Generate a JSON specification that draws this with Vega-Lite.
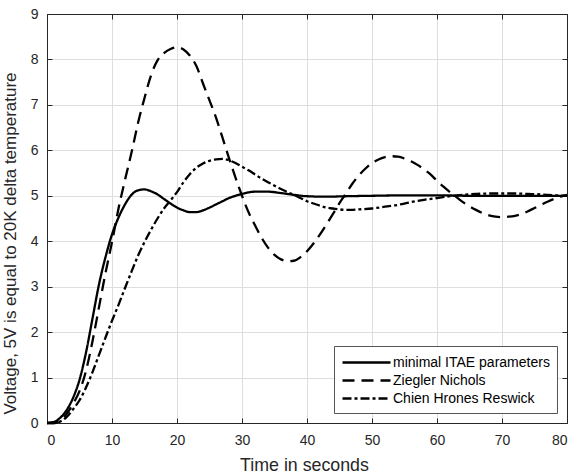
{
  "$schema": "https://vega.github.io/schema/vega-lite/v6.json",
  "width": 520,
  "height": 409,
  "autosize": {"type": "none"},
  "padding": {"left": 47, "top": 14, "right": 9, "bottom": 50},
  "background": "white",
  "config": {
    "font": "Liberation Sans",
    "view": {"stroke": "#262626", "strokeWidth": 1},
    "axis": {
      "domainColor": "#262626",
      "tickColor": "#262626",
      "labelColor": "#262626",
      "titleColor": "#262626",
      "labelFontSize": 14,
      "titleFontWeight": "normal",
      "gridColor": "#dedede",
      "gridWidth": 1,
      "tickSize": -5
    }
  },
  "datasets": {
    "curves": [
      {"series": "minimal ITAE parameters", "t": 0, "v": 0},
      {"series": "minimal ITAE parameters", "t": 1, "v": 0.02},
      {"series": "minimal ITAE parameters", "t": 2, "v": 0.11},
      {"series": "minimal ITAE parameters", "t": 3, "v": 0.28},
      {"series": "minimal ITAE parameters", "t": 4, "v": 0.55},
      {"series": "minimal ITAE parameters", "t": 5, "v": 0.95},
      {"series": "minimal ITAE parameters", "t": 6, "v": 1.55},
      {"series": "minimal ITAE parameters", "t": 7, "v": 2.3},
      {"series": "minimal ITAE parameters", "t": 8, "v": 3.05},
      {"series": "minimal ITAE parameters", "t": 9, "v": 3.65},
      {"series": "minimal ITAE parameters", "t": 10, "v": 4.15},
      {"series": "minimal ITAE parameters", "t": 11, "v": 4.52},
      {"series": "minimal ITAE parameters", "t": 12, "v": 4.81},
      {"series": "minimal ITAE parameters", "t": 13, "v": 5.02},
      {"series": "minimal ITAE parameters", "t": 14, "v": 5.12},
      {"series": "minimal ITAE parameters", "t": 15, "v": 5.14},
      {"series": "minimal ITAE parameters", "t": 16, "v": 5.1},
      {"series": "minimal ITAE parameters", "t": 17, "v": 5.03},
      {"series": "minimal ITAE parameters", "t": 18, "v": 4.93},
      {"series": "minimal ITAE parameters", "t": 19, "v": 4.83},
      {"series": "minimal ITAE parameters", "t": 20, "v": 4.74},
      {"series": "minimal ITAE parameters", "t": 21, "v": 4.68},
      {"series": "minimal ITAE parameters", "t": 22, "v": 4.64},
      {"series": "minimal ITAE parameters", "t": 23, "v": 4.64},
      {"series": "minimal ITAE parameters", "t": 24, "v": 4.68},
      {"series": "minimal ITAE parameters", "t": 25, "v": 4.74},
      {"series": "minimal ITAE parameters", "t": 26, "v": 4.81},
      {"series": "minimal ITAE parameters", "t": 27, "v": 4.88},
      {"series": "minimal ITAE parameters", "t": 28, "v": 4.95},
      {"series": "minimal ITAE parameters", "t": 29, "v": 5.0},
      {"series": "minimal ITAE parameters", "t": 30, "v": 5.04},
      {"series": "minimal ITAE parameters", "t": 32, "v": 5.09},
      {"series": "minimal ITAE parameters", "t": 34, "v": 5.09},
      {"series": "minimal ITAE parameters", "t": 36, "v": 5.06},
      {"series": "minimal ITAE parameters", "t": 38, "v": 5.02},
      {"series": "minimal ITAE parameters", "t": 40, "v": 4.99},
      {"series": "minimal ITAE parameters", "t": 43, "v": 4.98},
      {"series": "minimal ITAE parameters", "t": 46, "v": 4.99},
      {"series": "minimal ITAE parameters", "t": 50, "v": 5.0},
      {"series": "minimal ITAE parameters", "t": 55, "v": 5.01},
      {"series": "minimal ITAE parameters", "t": 60, "v": 5.01},
      {"series": "minimal ITAE parameters", "t": 65, "v": 5.0},
      {"series": "minimal ITAE parameters", "t": 70, "v": 5.0},
      {"series": "minimal ITAE parameters", "t": 75, "v": 5.0},
      {"series": "minimal ITAE parameters", "t": 80, "v": 5.0},

      {"series": "Ziegler Nichols", "t": 0, "v": 0},
      {"series": "Ziegler Nichols", "t": 1, "v": 0.0},
      {"series": "Ziegler Nichols", "t": 2, "v": 0.05},
      {"series": "Ziegler Nichols", "t": 3, "v": 0.2},
      {"series": "Ziegler Nichols", "t": 4, "v": 0.42},
      {"series": "Ziegler Nichols", "t": 5, "v": 0.7},
      {"series": "Ziegler Nichols", "t": 6, "v": 1.15},
      {"series": "Ziegler Nichols", "t": 7, "v": 1.8},
      {"series": "Ziegler Nichols", "t": 8, "v": 2.55},
      {"series": "Ziegler Nichols", "t": 9, "v": 3.3},
      {"series": "Ziegler Nichols", "t": 10, "v": 3.98},
      {"series": "Ziegler Nichols", "t": 11, "v": 4.72},
      {"series": "Ziegler Nichols", "t": 12, "v": 5.35},
      {"series": "Ziegler Nichols", "t": 13, "v": 5.95},
      {"series": "Ziegler Nichols", "t": 14, "v": 6.6},
      {"series": "Ziegler Nichols", "t": 15, "v": 7.15},
      {"series": "Ziegler Nichols", "t": 16, "v": 7.65},
      {"series": "Ziegler Nichols", "t": 17, "v": 7.98},
      {"series": "Ziegler Nichols", "t": 18, "v": 8.14},
      {"series": "Ziegler Nichols", "t": 19, "v": 8.23},
      {"series": "Ziegler Nichols", "t": 20, "v": 8.27},
      {"series": "Ziegler Nichols", "t": 21, "v": 8.22},
      {"series": "Ziegler Nichols", "t": 22, "v": 8.08},
      {"series": "Ziegler Nichols", "t": 23, "v": 7.85},
      {"series": "Ziegler Nichols", "t": 24, "v": 7.47},
      {"series": "Ziegler Nichols", "t": 25, "v": 7.1},
      {"series": "Ziegler Nichols", "t": 26, "v": 6.72},
      {"series": "Ziegler Nichols", "t": 27, "v": 6.28},
      {"series": "Ziegler Nichols", "t": 28, "v": 5.83},
      {"series": "Ziegler Nichols", "t": 29, "v": 5.4},
      {"series": "Ziegler Nichols", "t": 30, "v": 5.0},
      {"series": "Ziegler Nichols", "t": 31, "v": 4.64},
      {"series": "Ziegler Nichols", "t": 32, "v": 4.35},
      {"series": "Ziegler Nichols", "t": 33, "v": 4.08},
      {"series": "Ziegler Nichols", "t": 34, "v": 3.86},
      {"series": "Ziegler Nichols", "t": 35, "v": 3.7},
      {"series": "Ziegler Nichols", "t": 36, "v": 3.6},
      {"series": "Ziegler Nichols", "t": 37, "v": 3.56},
      {"series": "Ziegler Nichols", "t": 38, "v": 3.57},
      {"series": "Ziegler Nichols", "t": 39, "v": 3.65},
      {"series": "Ziegler Nichols", "t": 40, "v": 3.78},
      {"series": "Ziegler Nichols", "t": 41, "v": 3.95},
      {"series": "Ziegler Nichols", "t": 42, "v": 4.15},
      {"series": "Ziegler Nichols", "t": 43, "v": 4.37},
      {"series": "Ziegler Nichols", "t": 44, "v": 4.6},
      {"series": "Ziegler Nichols", "t": 45, "v": 4.84},
      {"series": "Ziegler Nichols", "t": 46, "v": 5.05},
      {"series": "Ziegler Nichols", "t": 47, "v": 5.27},
      {"series": "Ziegler Nichols", "t": 48, "v": 5.45},
      {"series": "Ziegler Nichols", "t": 49, "v": 5.6},
      {"series": "Ziegler Nichols", "t": 50, "v": 5.72},
      {"series": "Ziegler Nichols", "t": 51, "v": 5.8},
      {"series": "Ziegler Nichols", "t": 52, "v": 5.85},
      {"series": "Ziegler Nichols", "t": 53, "v": 5.87},
      {"series": "Ziegler Nichols", "t": 54, "v": 5.86},
      {"series": "Ziegler Nichols", "t": 55, "v": 5.82},
      {"series": "Ziegler Nichols", "t": 56, "v": 5.76},
      {"series": "Ziegler Nichols", "t": 57, "v": 5.68},
      {"series": "Ziegler Nichols", "t": 58, "v": 5.58},
      {"series": "Ziegler Nichols", "t": 59, "v": 5.47},
      {"series": "Ziegler Nichols", "t": 60, "v": 5.33},
      {"series": "Ziegler Nichols", "t": 61, "v": 5.2},
      {"series": "Ziegler Nichols", "t": 62, "v": 5.08},
      {"series": "Ziegler Nichols", "t": 63, "v": 4.97},
      {"series": "Ziegler Nichols", "t": 64, "v": 4.86},
      {"series": "Ziegler Nichols", "t": 65, "v": 4.77},
      {"series": "Ziegler Nichols", "t": 66, "v": 4.69},
      {"series": "Ziegler Nichols", "t": 67, "v": 4.62},
      {"series": "Ziegler Nichols", "t": 68, "v": 4.57},
      {"series": "Ziegler Nichols", "t": 69, "v": 4.54},
      {"series": "Ziegler Nichols", "t": 70, "v": 4.53},
      {"series": "Ziegler Nichols", "t": 71, "v": 4.54},
      {"series": "Ziegler Nichols", "t": 72, "v": 4.56},
      {"series": "Ziegler Nichols", "t": 73, "v": 4.6},
      {"series": "Ziegler Nichols", "t": 74, "v": 4.66},
      {"series": "Ziegler Nichols", "t": 75, "v": 4.73},
      {"series": "Ziegler Nichols", "t": 76, "v": 4.8},
      {"series": "Ziegler Nichols", "t": 77, "v": 4.87},
      {"series": "Ziegler Nichols", "t": 78, "v": 4.93},
      {"series": "Ziegler Nichols", "t": 79, "v": 4.98},
      {"series": "Ziegler Nichols", "t": 80, "v": 5.02},

      {"series": "Chien Hrones Reswick", "t": 0, "v": 0},
      {"series": "Chien Hrones Reswick", "t": 1, "v": 0.0},
      {"series": "Chien Hrones Reswick", "t": 2, "v": 0.03},
      {"series": "Chien Hrones Reswick", "t": 3, "v": 0.13},
      {"series": "Chien Hrones Reswick", "t": 4, "v": 0.3},
      {"series": "Chien Hrones Reswick", "t": 5, "v": 0.5},
      {"series": "Chien Hrones Reswick", "t": 6, "v": 0.78},
      {"series": "Chien Hrones Reswick", "t": 7, "v": 1.12},
      {"series": "Chien Hrones Reswick", "t": 8, "v": 1.5},
      {"series": "Chien Hrones Reswick", "t": 9, "v": 1.88},
      {"series": "Chien Hrones Reswick", "t": 10, "v": 2.25},
      {"series": "Chien Hrones Reswick", "t": 11, "v": 2.6},
      {"series": "Chien Hrones Reswick", "t": 12, "v": 2.97},
      {"series": "Chien Hrones Reswick", "t": 13, "v": 3.33},
      {"series": "Chien Hrones Reswick", "t": 14, "v": 3.68},
      {"series": "Chien Hrones Reswick", "t": 15, "v": 3.98},
      {"series": "Chien Hrones Reswick", "t": 16, "v": 4.25},
      {"series": "Chien Hrones Reswick", "t": 17, "v": 4.5},
      {"series": "Chien Hrones Reswick", "t": 18, "v": 4.72},
      {"series": "Chien Hrones Reswick", "t": 19, "v": 4.9},
      {"series": "Chien Hrones Reswick", "t": 20, "v": 5.08},
      {"series": "Chien Hrones Reswick", "t": 21, "v": 5.3},
      {"series": "Chien Hrones Reswick", "t": 22, "v": 5.48},
      {"series": "Chien Hrones Reswick", "t": 23, "v": 5.62},
      {"series": "Chien Hrones Reswick", "t": 24, "v": 5.71},
      {"series": "Chien Hrones Reswick", "t": 25, "v": 5.77},
      {"series": "Chien Hrones Reswick", "t": 26, "v": 5.8},
      {"series": "Chien Hrones Reswick", "t": 27, "v": 5.81},
      {"series": "Chien Hrones Reswick", "t": 28, "v": 5.78},
      {"series": "Chien Hrones Reswick", "t": 29, "v": 5.72},
      {"series": "Chien Hrones Reswick", "t": 30, "v": 5.64},
      {"series": "Chien Hrones Reswick", "t": 31, "v": 5.56},
      {"series": "Chien Hrones Reswick", "t": 32, "v": 5.47},
      {"series": "Chien Hrones Reswick", "t": 33, "v": 5.38},
      {"series": "Chien Hrones Reswick", "t": 34, "v": 5.3},
      {"series": "Chien Hrones Reswick", "t": 35, "v": 5.22},
      {"series": "Chien Hrones Reswick", "t": 36, "v": 5.15},
      {"series": "Chien Hrones Reswick", "t": 37, "v": 5.08},
      {"series": "Chien Hrones Reswick", "t": 38, "v": 5.02},
      {"series": "Chien Hrones Reswick", "t": 39, "v": 4.95},
      {"series": "Chien Hrones Reswick", "t": 40, "v": 4.88},
      {"series": "Chien Hrones Reswick", "t": 41, "v": 4.83},
      {"series": "Chien Hrones Reswick", "t": 42, "v": 4.78},
      {"series": "Chien Hrones Reswick", "t": 43, "v": 4.74},
      {"series": "Chien Hrones Reswick", "t": 44, "v": 4.72},
      {"series": "Chien Hrones Reswick", "t": 45, "v": 4.7},
      {"series": "Chien Hrones Reswick", "t": 46, "v": 4.69},
      {"series": "Chien Hrones Reswick", "t": 47, "v": 4.69},
      {"series": "Chien Hrones Reswick", "t": 48, "v": 4.7},
      {"series": "Chien Hrones Reswick", "t": 50, "v": 4.72},
      {"series": "Chien Hrones Reswick", "t": 52, "v": 4.76},
      {"series": "Chien Hrones Reswick", "t": 54, "v": 4.8},
      {"series": "Chien Hrones Reswick", "t": 56, "v": 4.86},
      {"series": "Chien Hrones Reswick", "t": 58, "v": 4.91},
      {"series": "Chien Hrones Reswick", "t": 60, "v": 4.95},
      {"series": "Chien Hrones Reswick", "t": 62, "v": 4.99},
      {"series": "Chien Hrones Reswick", "t": 64, "v": 5.02},
      {"series": "Chien Hrones Reswick", "t": 66, "v": 5.04},
      {"series": "Chien Hrones Reswick", "t": 68, "v": 5.05},
      {"series": "Chien Hrones Reswick", "t": 70, "v": 5.05},
      {"series": "Chien Hrones Reswick", "t": 72, "v": 5.05},
      {"series": "Chien Hrones Reswick", "t": 74, "v": 5.04},
      {"series": "Chien Hrones Reswick", "t": 76, "v": 5.03},
      {"series": "Chien Hrones Reswick", "t": 78, "v": 5.01},
      {"series": "Chien Hrones Reswick", "t": 80, "v": 5.0}
    ]
  },
  "data": {"name": "curves"},
  "layer": [
    {
      "mark": {"type": "line", "interpolate": "monotone", "strokeWidth": 2.3, "color": "black"},
      "encoding": {
        "x": {
          "field": "t", "type": "quantitative",
          "scale": {"domain": [0, 80], "nice": false, "zero": false},
          "axis": {"values": [0, 10, 20, 30, 40, 50, 60, 70, 80], "title": "Time in seconds", "titleFontSize": 17.8, "labelPadding": 15, "titleBaseline": "alphabetic", "titleY": 47, "titleX": 257, "titleAlign": "center"}
        },
        "y": {
          "field": "v", "type": "quantitative",
          "scale": {"domain": [0, 9], "nice": false, "zero": false},
          "axis": {"values": [0, 1, 2, 3, 4, 5, 6, 7, 8, 9], "title": "Voltage, 5V is equal to 20K delta temperature", "titleFontSize": 17, "labelPadding": 14, "titleBaseline": "alphabetic", "titleAlign": "center", "titleAngle": -90, "titleX": -32, "titleY": 229}
        },
        "strokeDash": {
          "field": "series", "type": "nominal",
          "scale": {
            "domain": ["minimal ITAE parameters", "Ziegler Nichols", "Chien Hrones Reswick"],
            "range": [[1, 0], [12, 7], [9, 3, 3, 3]]
          },
          "legend": {
            "title": null,
            "orient": "bottom-right",
            "offset": 10,
            "symbolType": "M-1,0H5",
            "symbolSize": 256,
            "symbolStrokeWidth": 2.5,
            "symbolStrokeColor": "black",
            "symbolFillColor": "transparent",
            "labelFontSize": 14,
            "labelColor": "black",
            "labelOffset": 33,
            "strokeColor": "#555555",
            "fillColor": "white",
            "padding": 7,
            "rowPadding": 1
          }
        }
      }
    },
    {
      "mark": {"type": "point", "opacity": 0},
      "encoding": {
        "x": {"field": "t", "type": "quantitative", "scale": {"domain": [0, 80], "nice": false, "zero": false},
              "axis": {"orient": "top", "values": [0, 10, 20, 30, 40, 50, 60, 70, 80], "labels": false, "title": null, "grid": false}},
        "y": {"field": "v", "type": "quantitative", "scale": {"domain": [0, 9], "nice": false, "zero": false},
              "axis": {"orient": "right", "values": [0, 1, 2, 3, 4, 5, 6, 7, 8, 9], "labels": false, "title": null, "grid": false}}
      }
    }
  ],
  "resolve": {"axis": {"x": "independent", "y": "independent"}}
}
